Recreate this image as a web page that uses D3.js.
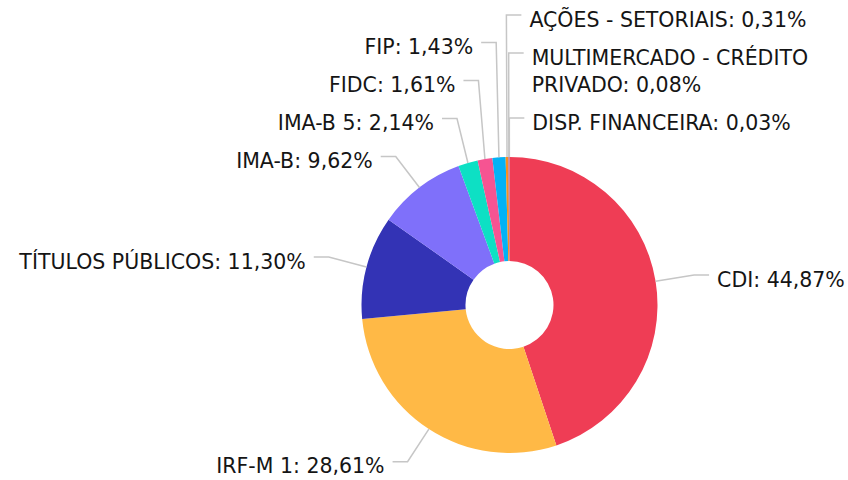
<!DOCTYPE html>
<html>
<head>
<meta charset="utf-8">
<script src="https://cdn.jsdelivr.net/npm/d3@7"></script>
<style>
  html, body { margin: 0; padding: 0; background: #ffffff; }
  svg { display: block; }
  text { font-family: "DejaVu Sans", sans-serif; font-size: 20.5px; fill: #151515; }
</style>
</head>
<body>
<svg id="chart" width="848" height="480"></svg>
<script>
const categories = ["CDI", "IRF-M 1", "TÍTULOS PÚBLICOS", "IMA-B", "IMA-B 5", "FIDC", "FIP",
  "AÇÕES - SETORIAIS", "MULTIMERCADO - CRÉDITO PRIVADO", "DISP. FINANCEIRA"];
const values = [44.87, 28.61, 11.30, 9.62, 2.14, 1.61, 1.43, 0.31, 0.08, 0.03];
const colors = ["#ef3d55", "#ffb946", "#3333b5", "#7f70fa", "#0de0c4", "#f65492", "#03b2f5",
  "#f98e1d", "#9b59b6", "#8a8a8a"];

const W = 848, H = 480;
const cx = 509.5, cy = 305, R = 148, r0 = 44, elbowR = 187;
const legLen = 15, gap = 8, spacing = 38, lineH = 27, maxW = 300;

const svg = d3.select("#chart");
const data = categories.map((c, i) => ({ name: c, value: values[i], color: colors[i] }));
const pie = d3.pie().sort(null).value(d => d.value).startAngle(0).endAngle(2 * Math.PI);
const arcs = pie(data);
const arc = d3.arc().innerRadius(r0).outerRadius(R);

const g = svg.append("g").attr("transform", `translate(${cx},${cy})`);
g.selectAll("path.slice").data(arcs).enter().append("path")
  .attr("class", "slice")
  .attr("d", arc)
  .attr("fill", d => d.data.color);

const fmt = v => v.toFixed(2).replace(".", ",") + "%";

// label layout
const labels = arcs.map(a => {
  const m = (a.startAngle + a.endAngle) / 2;
  const sx = Math.sin(m), sy = -Math.cos(m);
  const right = sx * R > -3;
  const sortAng = (right && m > Math.PI) ? m - 2 * Math.PI : m;
  return {
    a, m, right, sortAng,
    px: sx * R, py: sy * R,
    ex: sx * elbowR, ey: sy * elbowR,
    text: a.data.name + ": " + fmt(a.data.value)
  };
});

// measure & wrap text
const meas = svg.append("text").attr("x", -1000).attr("y", -1000);
function width(s) { meas.text(s); return meas.node().getComputedTextLength(); }
labels.forEach(l => {
  const words = l.text.split(" ");
  const lines = [];
  let cur = "";
  words.forEach(w => {
    const t = cur ? cur + " " + w : w;
    if (cur && width(t) > maxW) { lines.push(cur); cur = w; } else cur = t;
  });
  lines.push(cur);
  l.lines = lines;
});
meas.remove();

function resolve(side) {
  side.sort((p, q) => p.right ? p.sortAng - q.sortAng : q.sortAng - p.sortAng);
  side.forEach(l => l.y = l.ey);
  for (let i = side.length - 2; i >= 0; i--) {
    const need = spacing + (side[i].lines.length - 1) * lineH;
    side[i].y = Math.min(side[i].y, side[i + 1].y - need);
  }
  const top = -cy + 12;
  if (side.length && side[0].y < top) {
    side[0].y = top;
    for (let i = 1; i < side.length; i++) {
      const need = spacing + (side[i - 1].lines.length - 1) * lineH;
      side[i].y = Math.max(side[i].y, side[i - 1].y + need);
    }
  }
}
resolve(labels.filter(l => l.right));
resolve(labels.filter(l => !l.right));

const lg = g.append("g");
labels.forEach(l => {
  const dir = l.right ? 1 : -1;
  const hx = l.ex + dir * legLen;
  lg.append("polyline")
    .attr("points", [[l.px, l.py], [l.ex, l.y], [hx, l.y]].map(p => p.join(",")).join(" "))
    .attr("fill", "none")
    .attr("stroke", "#c6c6c6")
    .attr("stroke-width", 1.5);
  const t = lg.append("text")
    .attr("x", hx + dir * gap)
    .attr("y", l.y + 11.5)
    .attr("text-anchor", l.right ? "start" : "end");
  l.lines.forEach((s, i) => {
    t.append("tspan").attr("x", hx + dir * gap).attr("dy", i === 0 ? 0 : lineH).text(s);
  });
});
</script>
</body>
</html>
